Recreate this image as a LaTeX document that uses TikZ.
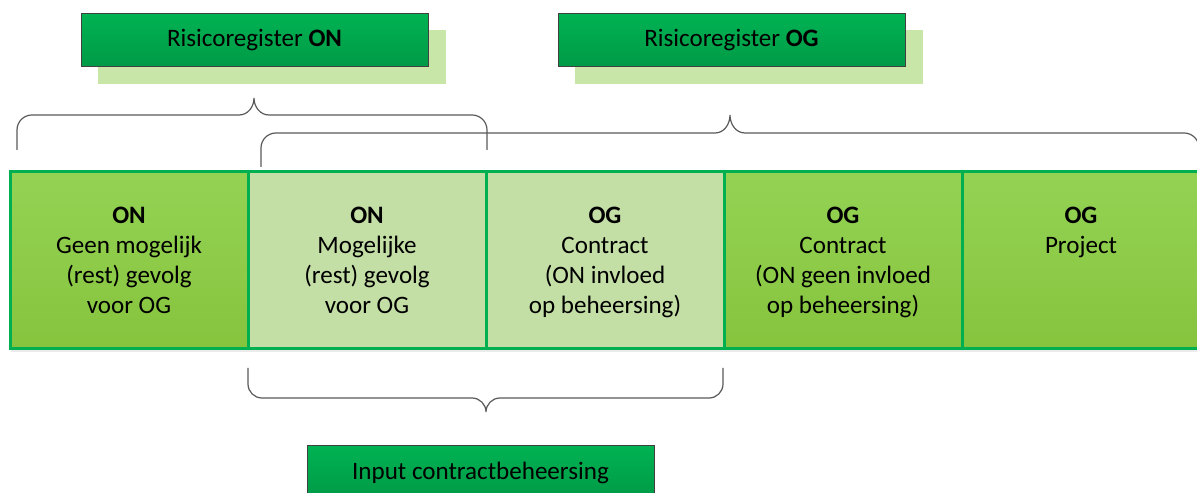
\documentclass[tikz,border=0pt]{standalone}
\usepackage{fontspec}
\setmainfont{Carlito}
\usetikzlibrary{positioning}

\definecolor{stageline}{RGB}{0,176,80}
\definecolor{stagetop}{RGB}{148,210,84}
\definecolor{stagebot}{RGB}{134,196,62}
\definecolor{stagelight}{RGB}{195,223,166}
\definecolor{regtop}{RGB}{0,178,82}
\definecolor{regbot}{RGB}{0,154,70}
\definecolor{regshade}{RGB}{201,230,169}
\definecolor{regline}{RGB}{64,64,64}
\definecolor{bracegray}{RGB}{89,89,89}

\begin{document}
\begin{tikzpicture}[
      x=0.75pt, y=0.75pt,
      node distance=0pt and 0pt,
      every node/.style={font=\fontsize{18.8}{22.5}\selectfont},
      stage/.style={
        draw=stageline, line width=2.25pt, outer sep=0pt, inner sep=0pt,
        minimum width=178.5pt, minimum height=132.75pt
      },
      stagedark/.style={stage, top color=stagetop, bottom color=stagebot},
      stagepale/.style={stage, fill=stagelight},
      stagetext/.style={align=center, anchor=north, inner sep=0pt},
      regbox/.style={
        draw=regline, line width=0.75pt, top color=regtop, bottom color=regbot,
        minimum width=260.25pt, minimum height=39.75pt, inner sep=0pt
      },
      regshadow/.style={fill=regshade, minimum width=261pt, minimum height=40.5pt},
      bracket/.style={draw=bracegray, line width=0.9pt}
    ]
    \useasboundingbox (0,0) rectangle (1197,493);

    % REGISTERS
    \node[regshadow] (shon) at (272,435.5) {};
    \node[regshadow] (shog) at (749,435.5) {};
    \node[regbox] (regon) at (254.5,452.5) {Risicoregister \textbf{ON}};
    \node[regbox] (regog) at (731.5,452.5) {Risicoregister \textbf{OG}};

    % SHADOW ROW
    \fill[black!8] (11,141) rectangle (1197,144);

    % STAGES
    \node[stagedark] (s1) at (129,232.5) {};
    \node[stagepale, right=of s1] (s2) {};
    \node[stagepale, right=of s2] (s3) {};
    \node[stagedark, right=of s3] (s4) {};
    \node[stagedark, right=of s4] (s5) {};

    \node[stagetext, below=26pt of s1.north] (t1) {\textbf{ON}\\Geen mogelijk\\(rest) gevolg\\voor OG};
    \node[stagetext, below=26pt of s2.north] (t2) {\textbf{ON}\\Mogelijke\\(rest) gevolg\\voor OG};
    \node[stagetext, below=26pt of s3.north] (t3) {\textbf{OG}\\Contract\\(ON invloed\\op beheersing)};
    \node[stagetext, below=26pt of s4.north] (t4) {\textbf{OG}\\Contract\\(ON geen invloed\\op beheersing)};
    \node[stagetext, below=26pt of s5.north] (t5) {\textbf{OG}\\Project};

    % INPUT
    \node[regbox] (input) at (480.5,20.5) {Input contractbeheersing};

    % ACCOLADES
    \draw[bracket] (17,343) -- (17,363) to[out=90,in=180] (32,378) -- (239,378)
      to[out=0,in=-90] (254,395) to[out=-90,in=180] (269,378) -- (472,378)
      to[out=0,in=90] (487,363) -- (487,343);
    \draw[bracket] (261,326) -- (261,345) to[out=90,in=180] (276,360) -- (715,360)
      to[out=0,in=-90] (730,378) to[out=-90,in=180] (745,360) -- (1184,360)
      to[out=0,in=90] (1199,345) -- (1199,326);
    \draw[bracket] (248,125) -- (248,109) to[out=-90,in=180] (262,95) -- (472,95)
      to[out=0,in=90] (486,81) to[out=90,in=180] (500,95) -- (709,95)
      to[out=0,in=-90] (723,109) -- (723,125);
  \end{tikzpicture}
\end{document}
